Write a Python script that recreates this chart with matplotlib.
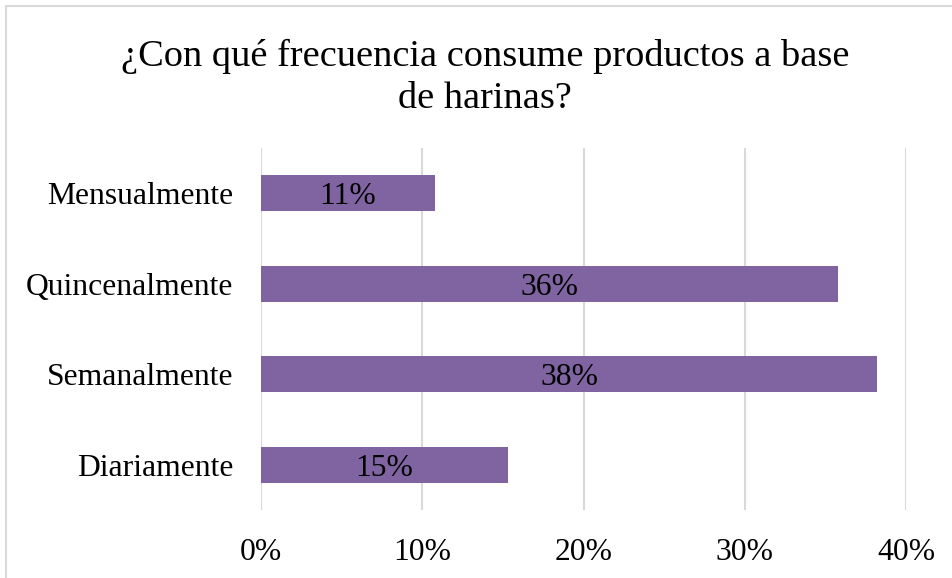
import matplotlib.pyplot as plt
from matplotlib.patches import Rectangle

categories = ['Diariamente', 'Semanalmente', 'Quincenalmente', 'Mensualmente']
values = [15.3, 38.2, 35.8, 10.8]
ticks = [0, 10, 20, 30, 40]

BAR_COLOR = '#8064A2'
GRID_COLOR = '#d9d9d9'
FS = 22.8

plt.rcParams['font.family'] = ['Liberation Serif', 'DejaVu Serif']

fig = plt.figure(figsize=(9.53, 5.78), dpi=100)
ax = fig.add_axes([261 / 953, 1 - 510 / 578, (906 - 261) / 953, 362 / 578])

# chart frame
fig.patches.append(Rectangle((6 / 953, -0.1), 1.2, 1 - 6 / 578 + 0.1,
                             transform=fig.transFigure, fill=False,
                             edgecolor=GRID_COLOR, linewidth=1.5))

y = range(len(categories))
ax.barh(y, values, height=0.4, color=BAR_COLOR, zorder=2)
for i, v in zip(y, values):
    ax.text(v / 2, i, f'{round(v)}%', ha='center', va='center_baseline',
            fontsize=FS, color='black', zorder=3)

ax.set_xlim(0, 40)
ax.set_ylim(-0.5, 3.5)
ax.set_xticks(ticks)
ax.set_xticklabels([f'{t}%' for t in ticks], fontsize=FS)
ax.set_yticks(list(y))
ax.set_yticklabels(categories, fontsize=FS)
ax.tick_params(length=0)
ax.tick_params(axis='x', pad=20)
ax.tick_params(axis='y', pad=20)
ax.grid(axis='x', color=GRID_COLOR, linewidth=1.5, zorder=0)
for s in ax.spines.values():
    s.set_visible(False)

fig.text(0.509, 1 - 77 / 578,
         '¿Con qué frecuencia consume productos a base\nde harinas?',
         ha='center', va='center', fontsize=27.6, linespacing=1.28)

fig.savefig('out.png', dpi=100)
